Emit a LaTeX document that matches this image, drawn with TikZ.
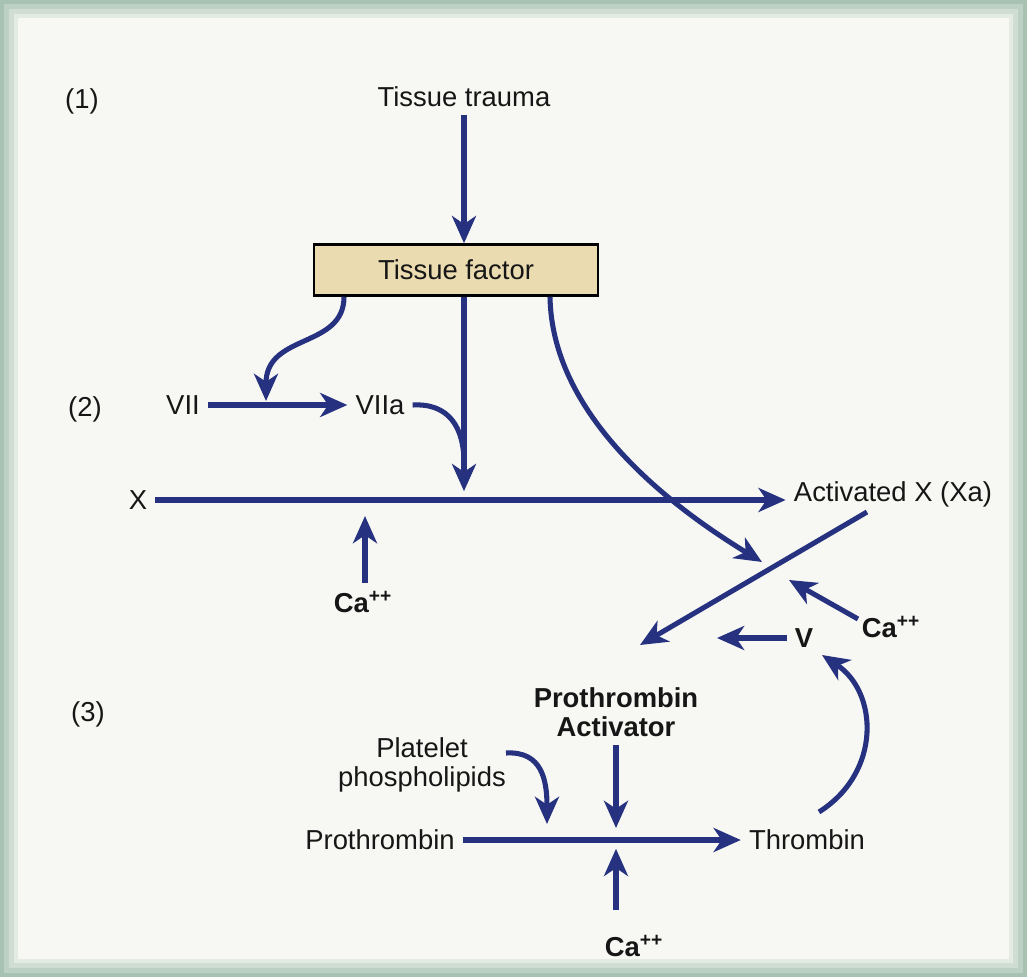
\documentclass[tikz,border=0pt]{standalone}
\usepackage{fontspec}
\setmainfont{Liberation Sans}
\usetikzlibrary{calc}
\usetikzlibrary{positioning}
\usetikzlibrary{arrows.meta}
\definecolor{flowblue}{RGB}{38,50,128}
\definecolor{factortan}{RGB}{235,219,176}
\definecolor{inkblack}{RGB}{22,22,22}
\definecolor{pageface}{RGB}{247,248,244}
\definecolor{pageedge}{RGB}{168,194,178}
\tikzstyle{labnode} = [font=\fontsize{19.5}{21}\selectfont, text=inkblack, align=center, inner sep=0.2cm]
\tikzstyle{boldnode} = [labnode, font=\fontsize{19.5}{21}\selectfont\bfseries]
\tikzstyle{factornode} = [labnode, draw=black, line width=1.8pt, fill=factortan, minimum width=7.1cm, minimum height=1.275cm]
\tikzstyle{flow} = [draw=flowblue, line width=3.6pt, -{Stealth[length=0.68cm,width=0.6cm,inset=0.2cm]}]
\tikzstyle{flowline} = [draw=flowblue, line width=3.6pt]

\begin{document}
\begin{tikzpicture}
    % page with its soft greenish rim
    \useasboundingbox (0,0) rectangle (25.675,-24.425);
    \fill[pageedge] (0,0) rectangle (25.675,-24.425);
    \foreach \d/\c in {0.1/25, 0.22/50, 0.34/75, 0.46/100}
        \fill[pageface!\c!pageedge] (\d,-\d) rectangle (25.675-\d,-24.425+\d);

    % stage numbers
    \node[labnode] (num1) at (2.05,-2.525) {(1)};
    \node[labnode] (num2) at (2.125,-10.225) {(2)};
    \node[labnode] (num3) at (2.2,-17.85) {(3)};

    % stage 1 and 2
    \node[labnode] (trauma) at (11.6,-2.425) {Tissue trauma};
    \node[factornode] (factor) at ($(trauma)+(-0.2,-4.325)$) {Tissue factor};
    \node[labnode] (VII) at ($(factor)+(-6.825,-3.375)$) {VII};
    \node[labnode] (VIIa) at ($(VII)+(4.925,0)$) {VIIa};
    \node[labnode] (X) at ($(VII)+(-1.125,-2.375)$) {X};
    \node[labnode] (xa) at ($(X)+(18.875,0.15)$) {Activated X (Xa)};
    \node[boldnode] (caA) at ($(X)+(5.625,-2.55)$) {Ca\textsuperscript{++}};

    % stage 3
    \node[boldnode] (V) at ($(xa)+(-2.225,-3.6)$) {V};
    \node[boldnode] (caB) at ($(xa)+(-0.05,-3.325)$) {Ca\textsuperscript{++}};
    \node[boldnode] (activator) at (15.4,-17.8) {Prothrombin\\Activator};
    \node[labnode] (platelet) at ($(activator)+(-4.85,-1.325)$) {Platelet\\phospholipids};
    \node[labnode] (prothrombin) at ($(activator)+(-5.9,-3.2)$) {Prothrombin};
    \node[labnode] (thrombin) at ($(prothrombin)+(10.675,0)$) {Thrombin};
    \node[boldnode] (caC) at ($(activator)+(0.45,-5.85)$) {Ca\textsuperscript{++}};

    % free ends of the connectors
    \coordinate (stemtip) at ($(trauma |- X)+(0,0.22)$);
    \coordinate (merge) at ($(trauma |- VIIa)+(0,-1.45)$);
    \coordinate (vIIjoin) at ($(VII)+(2.075,0.1)$);
    \coordinate (crosstip) at (19.05,-14.05);
    \coordinate (xastart) at ($(xa)+(-0.65,-0.45)$);
    \coordinate (acttip) at ($(activator)+(0.6,1.675)$);
    \coordinate (caBstart) at ($(caB)+(-0.825,0.2)$);
    \coordinate (caBtip) at ($(caB)+(-2.55,1.175)$);
    \coordinate (Vtip) at ($(V)+(-2.175,0)$);
    \coordinate (caAbase) at ($(caA)+(0.05,0.475)$);
    \coordinate (caAtip) at ($(caA)+(0.05,2.15)$);
    \coordinate (pltstart) at ($(platelet)+(2.1,0.3)$);
    \coordinate (plttip) at ($(prothrombin)+(4.175,0.4)$);
    \coordinate (acttop) at ($(activator |- prothrombin)+(0,0.3)$);
    \coordinate (caCbase) at ($(activator |- caC)+(0,0.9)$);
    \coordinate (caCtip) at ($(activator |- prothrombin)+(0,-0.22)$);
    \coordinate (thrstart) at ($(thrombin)+(0.3,0.7)$);
    \coordinate (Vbelow) at ($(V)+(0.45,-0.425)$);

    % tissue factor pathway
    \draw[flow] (trauma.south) -- (trauma |- factor.north);
    \draw[flow] (trauma |- factor.south) -- (stemtip);
    \draw[flow] ($(factor.south)+(-2.8,0)$) .. controls +(0,-1.3) and +(0,1.7) .. (vIIjoin);
    \draw[flow] (VII.east) -- (VIIa.west);
    \draw[flowline] (VIIa.east) .. controls +(0.9,0.05) and +(0,0.9) .. (merge);
    \draw[flow] (X.east) -- (X.east -| xa.west);
    \draw[flow] (caAbase) -- (caAtip);
    \draw[flow] ($(factor.south)+(2.35,0)$) .. controls +(0.05,-3.1) and +(-2.05,1.25) .. (crosstip);

    % prothrombin activator
    \draw[flow] (xastart) -- (acttip);
    \draw[flow] (caBstart) -- (caBtip);
    \draw[flow] (V.west) -- (Vtip);

    % thrombin
    \draw[flow] (activator.south) -- (acttop);
    \draw[flow] (pltstart) .. controls +(0.9,0.05) and +(0,1.1) .. (plttip);
    \draw[flow] (prothrombin.east) -- (thrombin.west);
    \draw[flow] (caCbase) -- (caCtip);
    \draw[flow] (thrstart) .. controls +(1.575,1.0) and +(1.4,-0.925) .. (Vbelow);
\end{tikzpicture}
\end{document}
